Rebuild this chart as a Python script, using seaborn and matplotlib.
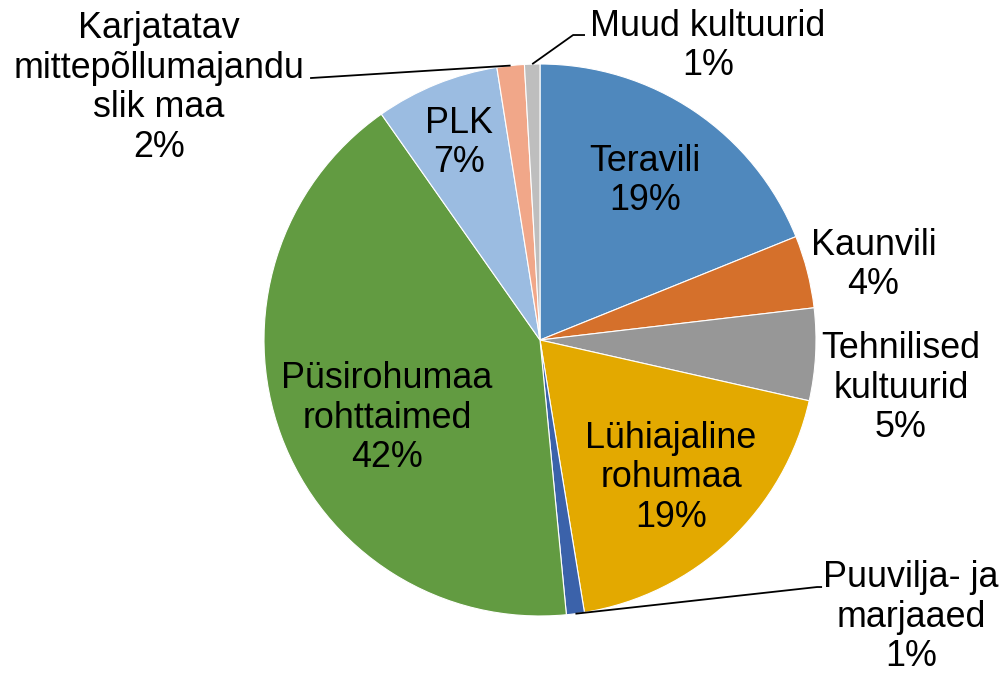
import numpy as np
import seaborn as sns
import matplotlib.pyplot as plt

# andmed (osakaal, %)
kategooriad = ['Teravili', 'Kaunvili', 'Tehnilised\nkultuurid', 'Lühiajaline\nrohumaa',
               'Puuvilja- ja\nmarjaaed', 'Püsirohumaa\nrohttaimed', 'PLK',
               'Karjatatav\nmittepõllumajandu\nslik maa', 'Muud kultuurid']
osakaal = [18.9, 4.25, 5.4, 18.9, 1.05, 41.8, 7.25, 1.6, 0.9]
varvid = ['#4F88BD', '#D5702B', '#979797', '#E3A900', '#3B62AA',
          '#629B41', '#9BBCE1', '#F1A789', '#BEBEBE']

# siltide asukohad (pirukaraadiuse ühikutes)
sildi_xy = [(0.380, 0.576), (1.208, 0.272), (1.308, -0.174), (0.475, -0.500),
            (1.344, -1.004), (-0.554, -0.283), (-0.293, 0.714), (-1.380, 0.913),
            (0.609, 1.065)]
# juhtjooned: sektori indeks -> murdepunktid
juhtjooned = {
    8: [(0.120, 1.105), (0.163, 1.105)],
    7: [(-0.833, 0.949)],
    4: [(1.004, -0.895), (1.022, -0.895)],
}

sns.set_style('white')
plt.rcParams['font.family'] = ['Liberation Sans', 'DejaVu Sans']

fig = plt.figure(figsize=(10.07, 6.75), dpi=100)
ax = fig.add_axes([0, 0, 1, 1])

wedges, _ = ax.pie(osakaal, colors=varvid, startangle=90, counterclock=False,
                   radius=1, wedgeprops=dict(edgecolor='white', linewidth=0.8))

for i, (w, nimi, p) in enumerate(zip(wedges, kategooriad, osakaal)):
    x, y = sildi_xy[i]
    ax.text(x, y, f'{nimi}\n{p:.0f}%', ha='center', va='center', fontsize=25.8,
            linespacing=1.17, color='black')
    if i in juhtjooned:
        nurk = np.deg2rad((w.theta1 + w.theta2) / 2)
        punktid = [(np.cos(nurk), np.sin(nurk))] + juhtjooned[i]
        xs, ys = zip(*punktid)
        ax.plot(xs, ys, color='black', lw=1.3, solid_capstyle='butt')

ax.set_xlim(-540 / 276, (1007 - 540) / 276)
ax.set_ylim(-(675 - 340) / 276, 340 / 276)
ax.set_aspect('auto')
ax.axis('off')

fig.savefig('out.png', dpi=100, facecolor='white')
